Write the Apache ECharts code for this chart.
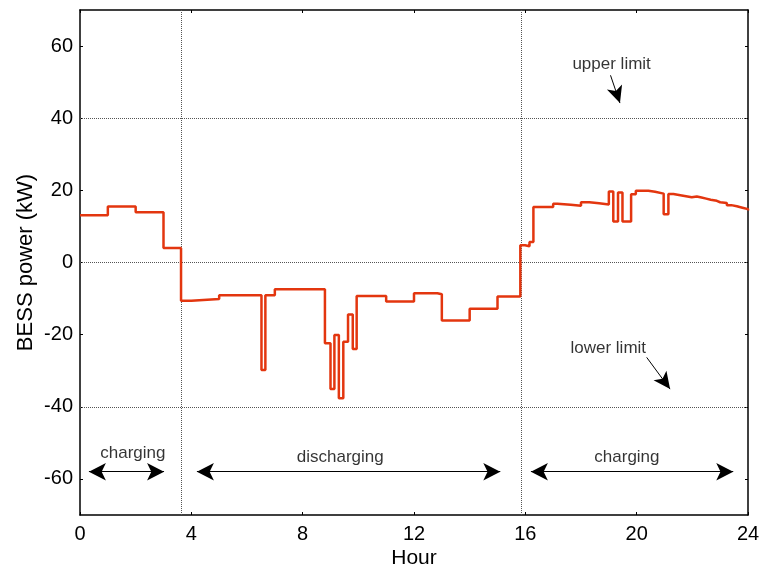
<!DOCTYPE html>
<html>
<head>
<meta charset="utf-8">
<script src="https://cdn.jsdelivr.net/npm/echarts@6/dist/echarts.min.js"></script>
<style>
  html, body { margin: 0; padding: 0; background: #fff; }
  #grafico { width: 759px; height: 568px; }
</style>
</head>
<body>
<div id="grafico"></div>
<script>
// hora em que cada patamar começa e potência do BESS (kW) nesse patamar
const horas = [0, 1.0, 2.0, 3.0, 3.63, 4.0, 5.0, 6.52, 6.66, 7.0, 8.8, 9.0, 9.14, 9.3, 9.46, 9.63, 9.8, 9.94,
  11.0, 12.0, 12.84, 13.0, 14.0, 15.0, 15.82, 15.99, 16.15, 16.29, 17.0, 17.15, 17.63, 18.0, 18.3, 18.65,
  19.0, 19.16, 19.33, 19.49, 19.8, 19.97, 20.42, 20.66, 20.97, 21.14, 21.32, 21.62, 21.98, 22.16, 22.33,
  22.5, 22.66, 22.88, 23.0, 23.24, 23.4, 23.6, 23.8, 24];
const potencia = [13.1, 15.5, 13.9, 4.0, -10.6, -10.1, -9.1, -29.8, -9.1, -7.4, -22.4, -35.1, -20.1, -37.6, -22.0, -14.4, -24.0, -9.3,
  -10.8, -8.5, -8.8, -16.1, -12.8, -9.4, 4.8, 4.5, 5.7, 15.4, 16.3, 16.0, 15.7, 16.7, 16.4, 16.1,
  19.7, 11.4, 19.4, 11.4, 18.9, 19.9, 19.6, 19.1, 13.4, 19.0, 18.6, 18.1, 18.3, 18.0, 17.7,
  17.4, 17.1, 16.7, 16.5, 15.9, 15.6, 15.2, 14.8, 14.4];

const ticksX = [0, 4, 8, 12, 16, 20, 24];
const ticksY = [-60, -40, -20, 0, 20, 40, 60];
const limites = [40, 0, -40];
const transicoes = [3.63, 15.85];

// setas e textos das anotações (coordenadas em hora / kW)
const setasDuplas = [[[0.32, -58], [3.02, -58]], [[4.2, -58], [15.1, -58]], [[16.2, -58], [23.47, -58]]];
const setasSimples = [[[19.06, 51.9], [19.4, 44.2]], [[20.36, -26.3], [21.2, -35.1]]];
const textos = [
  { nome: "charging", pos: [1.9, -52.8] },
  { nome: "discharging", pos: [9.35, -53.9] },
  { nome: "charging", pos: [19.65, -54] },
  { nome: "upper limit", pos: [19.1, 54.9] },
  { nome: "lower limit", pos: [18.98, -23.8] }
];

const fonte = "Liberation Sans, Arial, sans-serif";
const dados = horas.map((h, i) => [h, potencia[i]]);

const chart = echarts.init(document.getElementById("grafico"));

const eixoBase = {
  min: 0, max: 24, interval: 4,
  axisLine: { show: true, onZero: false, lineStyle: { color: "#000", width: 1.5 } },
  axisTick: { show: true, inside: true, length: 3, lineStyle: { color: "#000" } },
  splitLine: { show: false }
};

const option = {
  animation: false,
  backgroundColor: "#fff",
  grid: { left: 80, right: 11, top: 10, bottom: 53, outerBoundsMode: "none", containLabel: false },
  xAxis: [
    Object.assign({}, eixoBase, {
      type: "value", position: "bottom",
      name: "Hour", nameLocation: "middle", nameGap: 33, nameMoveOverlap: false,
      nameTextStyle: { fontFamily: fonte, fontSize: 21, color: "#000" },
      axisLabel: { fontFamily: fonte, fontSize: 20, color: "#000", margin: 9, customValues: ticksX }
    }),
    Object.assign({}, eixoBase, { type: "value", position: "top", axisLabel: { show: false } })
  ],
  yAxis: [
    {
      type: "value", position: "left", min: -70, max: 70,
      name: "BESS power (kW)", nameLocation: "middle", nameGap: 43, nameMoveOverlap: false,
      nameTextStyle: { fontFamily: fonte, fontSize: 22, color: "#000" },
      axisLine: { show: true, onZero: false, lineStyle: { color: "#000", width: 1.5 } },
      axisTick: { show: true, inside: true, length: 3, customValues: ticksY, lineStyle: { color: "#000" } },
      axisLabel: { fontFamily: fonte, fontSize: 20, color: "#000", margin: 7, customValues: ticksY },
      splitLine: { show: false }
    },
    {
      type: "value", position: "right", min: -70, max: 70,
      axisLine: { show: true, onZero: false, lineStyle: { color: "#000", width: 1.5 } },
      axisTick: { show: true, inside: true, length: 3, customValues: ticksY, lineStyle: { color: "#000" } },
      axisLabel: { show: false },
      splitLine: { show: false }
    }
  ],
  series: [
    {
      type: "line",
      step: "end",
      data: dados,
      showSymbol: false,
      lineStyle: { color: "#e3360f", width: 2.5 },
      z: 5,
      markLine: {
        silent: true,
        symbol: ["none", "none"],
        label: { show: false },
        lineStyle: { color: "#555", type: "dotted", width: 1 },
        data: limites.map(v => ({ yAxis: v })).concat(transicoes.map(v => ({ xAxis: v })))
      }
    },
    {
      type: "line",
      data: [],
      z: 4,
      markLine: {
        silent: true,
        label: { show: false },
        symbol: ["arrow", "arrow"],
        symbolSize: [13, 17],
        lineStyle: { color: "#000", type: "solid", width: 1 },
        data: setasDuplas.map(s => [{ coord: s[0] }, { coord: s[1] }])
      }
    },
    {
      type: "line",
      data: [],
      z: 4,
      markLine: {
        silent: true,
        label: { show: false },
        symbol: ["none", "arrow"],
        symbolSize: [12, 17],
        lineStyle: { color: "#000", type: "solid", width: 1 },
        data: setasSimples.map(s => [{ coord: s[0] }, { coord: s[1] }])
      }
    },
    {
      type: "scatter",
      symbolSize: 0,
      silent: true,
      data: textos.map(t => ({ value: t.pos, name: t.nome })),
      label: {
        show: true,
        position: "inside",
        formatter: p => p.name,
        fontFamily: fonte,
        fontSize: 17,
        color: "#000"
      }
    }
  ]
};
chart.setOption(option);
</script>
</body>
</html>
